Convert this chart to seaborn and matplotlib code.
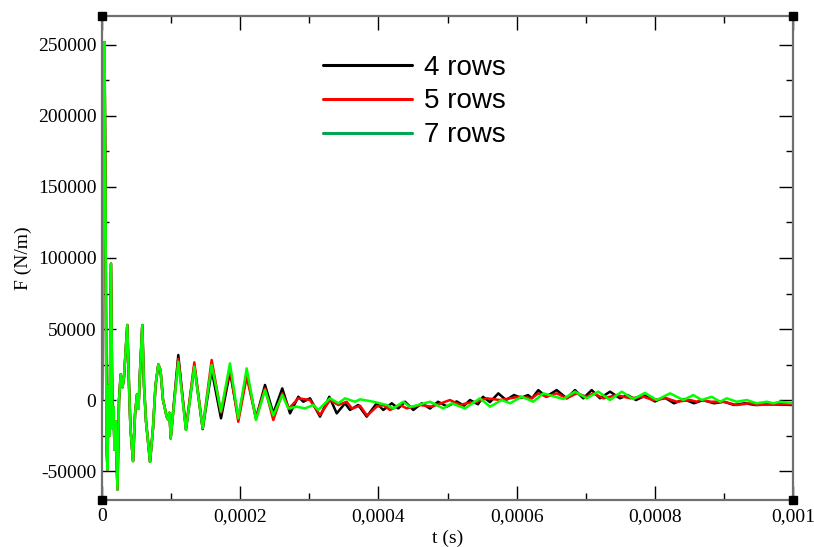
import numpy as np
import pandas as pd
import matplotlib
matplotlib.use("Agg")
import matplotlib.pyplot as plt
from matplotlib.ticker import MultipleLocator, FuncFormatter
from matplotlib.lines import Line2D
import seaborn as sns

# ---------------- data (time in microseconds, force in N/m) ----------------
# initial transient, common to all three meshes (green drawn on top)
early_t = [0, 3.6, 5.1, 6.5, 7.9, 9.4, 10.9, 13.0, 15.2, 16.6, 18.1, 19.5, 22.4, 24.6,
           27.1, 29.7, 31.8, 36.6, 39.1, 41.2, 44.9, 47.8, 50.7, 52.8, 55.0, 58.3, 60.8,
           63.7, 69.5, 73.8, 77.4, 81.5, 84.7, 88.3, 93.6, 96.2, 97.7, 99.4]
early_F = [0, 252000, 140000, -30000, -49000, 10000, -25000, 96000, -20000, -5000, -35000,
           -15000, -63000, 0, 18000, 9000, 16000, 52800, 10000, -20000, -43000, -10000, 4000,
           -6000, 20000, 52800, 10000, -15000, -43500, -20000, 10000, 25000, 21000, 0, -11700,
           -14000, -9000, -27000]

mid_t = [110.4, 121.5, 133.6, 145.7, 158.7, 172.2, 185.2, 197.2, 209.4, 222.8, 235.9, 247.9, 260.9]
rows4_mid = [31700, -21000, 24000, -20500, 21100, -12900, 19900, -12900, 18800, -12900, 10600, -9400, 8200]
rows5_mid = [29000, -20000, 26500, -19900, 28200, -9000, 22300, -15300, 16400, -12900, 8200, -14100, 4700]
rows7_mid = [27000, -21100, 23500, -19900, 24600, -8000, 25800, -12900, 22300, -14100, 7000, -10900, 3500]

rows4_late_t = [272.1, 284.1, 291.3, 301.0, 315.5, 329.0, 339.7, 351.7, 358.9, 370.9, 383.1, 397.5,
                407.1, 419.3, 428.8, 438.5, 450.5, 462.7, 474.7, 486.3, 499.3, 513.3, 523.9, 532.6,
                544.1, 551.4, 561.5, 573.5, 584.7, 596.3, 606.4, 616.5, 622.3, 631.4, 642.6, 658.0,
                672.5, 684.5, 696.5, 708.7, 720.7, 735.2, 749.6, 760.7, 772.8, 785.8, 800.3, 813.3,
                827.8, 842.3, 856.8, 869.8, 885.7, 900.2, 914.6, 930.5, 945.0, 966.7, 1000]
rows4_late_F = [-9400, 2300, -1200, 1200, -11700, 2300, -9400, -2300, -7000, -3500, -11700, -2300,
                -7000, -2300, -5900, -1200, -7000, -2300, -6000, -1200, -4500, -1000, -4000, 0,
                -3000, 2300, -1500, 4700, 0, 3500, 1500, 3500, 1200, 7000, 2300, 7000,
                1200, 7000, 1200, 7000, 1200, 5900, 1200, 3500, 0, 3000, -1000, 2000,
                -2300, 500, -2300, 0, -2300, -1200, -3500, -2300, -3500, -3000, -3500]

rows5_late_t = [270.6, 284.1, 301.0, 315.5, 329.9, 342.0, 354.1, 361.8, 373.4, 383.5, 397.5, 406.7,
                416.8, 431.3, 441.0, 460.2, 477.1, 503.6, 518.1, 527.8, 542.3, 556.7, 576.0, 590.5,
                605.0, 621.9, 631.4, 643.6, 658.0, 672.5, 686.9, 701.5, 711.1, 725.6, 744.9, 764.2,
                783.5, 798.0, 817.3, 831.8, 851.1, 860.7, 865.5, 880.0, 899.3, 918.6, 937.9, 947.5,
                971.6, 1000]
rows5_late_F = [-6000, 1200, 0, -10600, 0, -3500, -1200, -6000, -4000, -11000, -4700, -3500,
                -7000, -3500, -5900, -3500, -4700, 0, -3500, -2300, -1200, 1200, 0, 1200,
                2300, 1200, 4700, 2300, 4700, 1200, 4700, 2300, 4700, 1200, 3500, 1200,
                2300, 0, 1200, -1200, 0, -1200, 0, -1200, -1200, -3500, -2300, -3500,
                -3000, -3000]

rows7_late_t = [269.6, 281.8, 293.8, 305.8, 313.0, 330.0, 342.0, 351.7, 366.1, 373.4, 392.6, 412.0,
                421.6, 436.0, 445.7, 474.7, 493.9, 506.1, 525.3, 547.0, 561.5, 578.5, 590.5, 607.4,
                624.2, 638.6, 667.6, 684.5, 701.5, 718.2, 735.2, 752.1, 768.9, 785.8, 802.8, 822.0,
                841.3, 855.7, 867.9, 882.4, 894.5, 904.1, 918.6, 933.0, 947.5, 962.0, 971.6, 981.2,
                1000]
rows7_late_F = [-5900, -4700, -5900, -3500, -7000, 1200, -2300, 1200, -1200, 500, -1200, -3500,
                -5900, -1200, -5000, -1200, -5900, -2300, -5900, 1200, -4700, 0, -2300, 2300,
                -1200, 4700, 700, 5900, 1200, 5900, 0, 5900, 700, 5000, 0, 4700,
                0, 3500, 0, 2300, -1200, 1200, -1200, 0, -2300, -1200, -2300, -1200,
                -2300]

series_names = ["4 rows", "5 rows", "7 rows"]
line_colors = ["#000000", "#ff0000", "#00ff00"]
legend_colors = ["#000000", "#ff0000", "#00a651"]

frames = []
for name, mid, lt, lf in [("4 rows", rows4_mid, rows4_late_t, rows4_late_F),
                          ("5 rows", rows5_mid, rows5_late_t, rows5_late_F),
                          ("7 rows", rows7_mid, rows7_late_t, rows7_late_F)]:
    t_us = np.array(early_t + mid_t + lt, dtype=float)
    F = np.array(early_F + mid + lf, dtype=float)
    frames.append(pd.DataFrame({"t": t_us * 1e-6, "F": F, "series": name}))
df = pd.concat(frames, ignore_index=True)

# ---------------- figure ----------------
sns.set_theme(style="white")
plt.rcParams["font.family"] = ["Liberation Serif", "DejaVu Serif"]
plt.rcParams["text.color"] = "black"
plt.rcParams["axes.labelcolor"] = "black"
plt.rcParams["xtick.color"] = "black"
plt.rcParams["ytick.color"] = "black"

fig = plt.figure(figsize=(8.14, 5.47), dpi=100)
ax = fig.add_axes([102 / 814, 1 - 500 / 547, 691 / 814, 484 / 547])
ax.set_facecolor("white")

sns.lineplot(data=df, x="t", y="F", hue="series", hue_order=series_names,
             palette=dict(zip(series_names, line_colors)), sort=False, estimator=None,
             linewidth=1.8, legend=False, ax=ax)

ax.set_xlim(0, 0.001)
ax.set_ylim(-70400, 270400)

ax.xaxis.set_major_locator(MultipleLocator(0.0002))
ax.xaxis.set_minor_locator(MultipleLocator(0.0001))
ax.yaxis.set_major_locator(MultipleLocator(50000))
ax.yaxis.set_minor_locator(MultipleLocator(25000))

def fmt(v, pos):
    if abs(v) < 1e-12:
        return "0"
    return "{:g}".format(v).replace(".", ",")

ax.xaxis.set_major_formatter(FuncFormatter(fmt))
ax.yaxis.set_major_formatter(FuncFormatter(fmt))

ax.tick_params(which="both", direction="in", top=True, right=True, bottom=True, left=True,
               color="black", labelcolor="black", width=1.0)
ax.tick_params(which="major", length=10, labelsize=14)
ax.tick_params(which="minor", length=5)
ax.tick_params(axis="x", which="major", pad=6)
ax.tick_params(axis="y", which="major", pad=4)

for s in ax.spines.values():
    s.set_color("#707070")
    s.set_linewidth(1.6)

ax.plot([0, 1, 0, 1], [0, 0, 1, 1], "s", color="black", markersize=6,
        transform=ax.transAxes, clip_on=False, zorder=6)

ax.set_xlabel("t (s)", fontsize=14, labelpad=3, color="black")
ax.set_ylabel("F (N/m)", fontsize=14, labelpad=4, color="black")

handles = [Line2D([0], [0], color=c, lw=2.2) for c in legend_colors]
leg = ax.legend(handles, series_names, loc="upper left", bbox_to_anchor=(0.3198, 0.92),
                frameon=False, borderpad=0, borderaxespad=0, handlelength=3.2,
                handletextpad=0.45, labelspacing=0.28, labelcolor="black",
                prop={"family": "Liberation Sans", "size": 20})

fig.savefig("out.png", dpi=100, facecolor="white")
